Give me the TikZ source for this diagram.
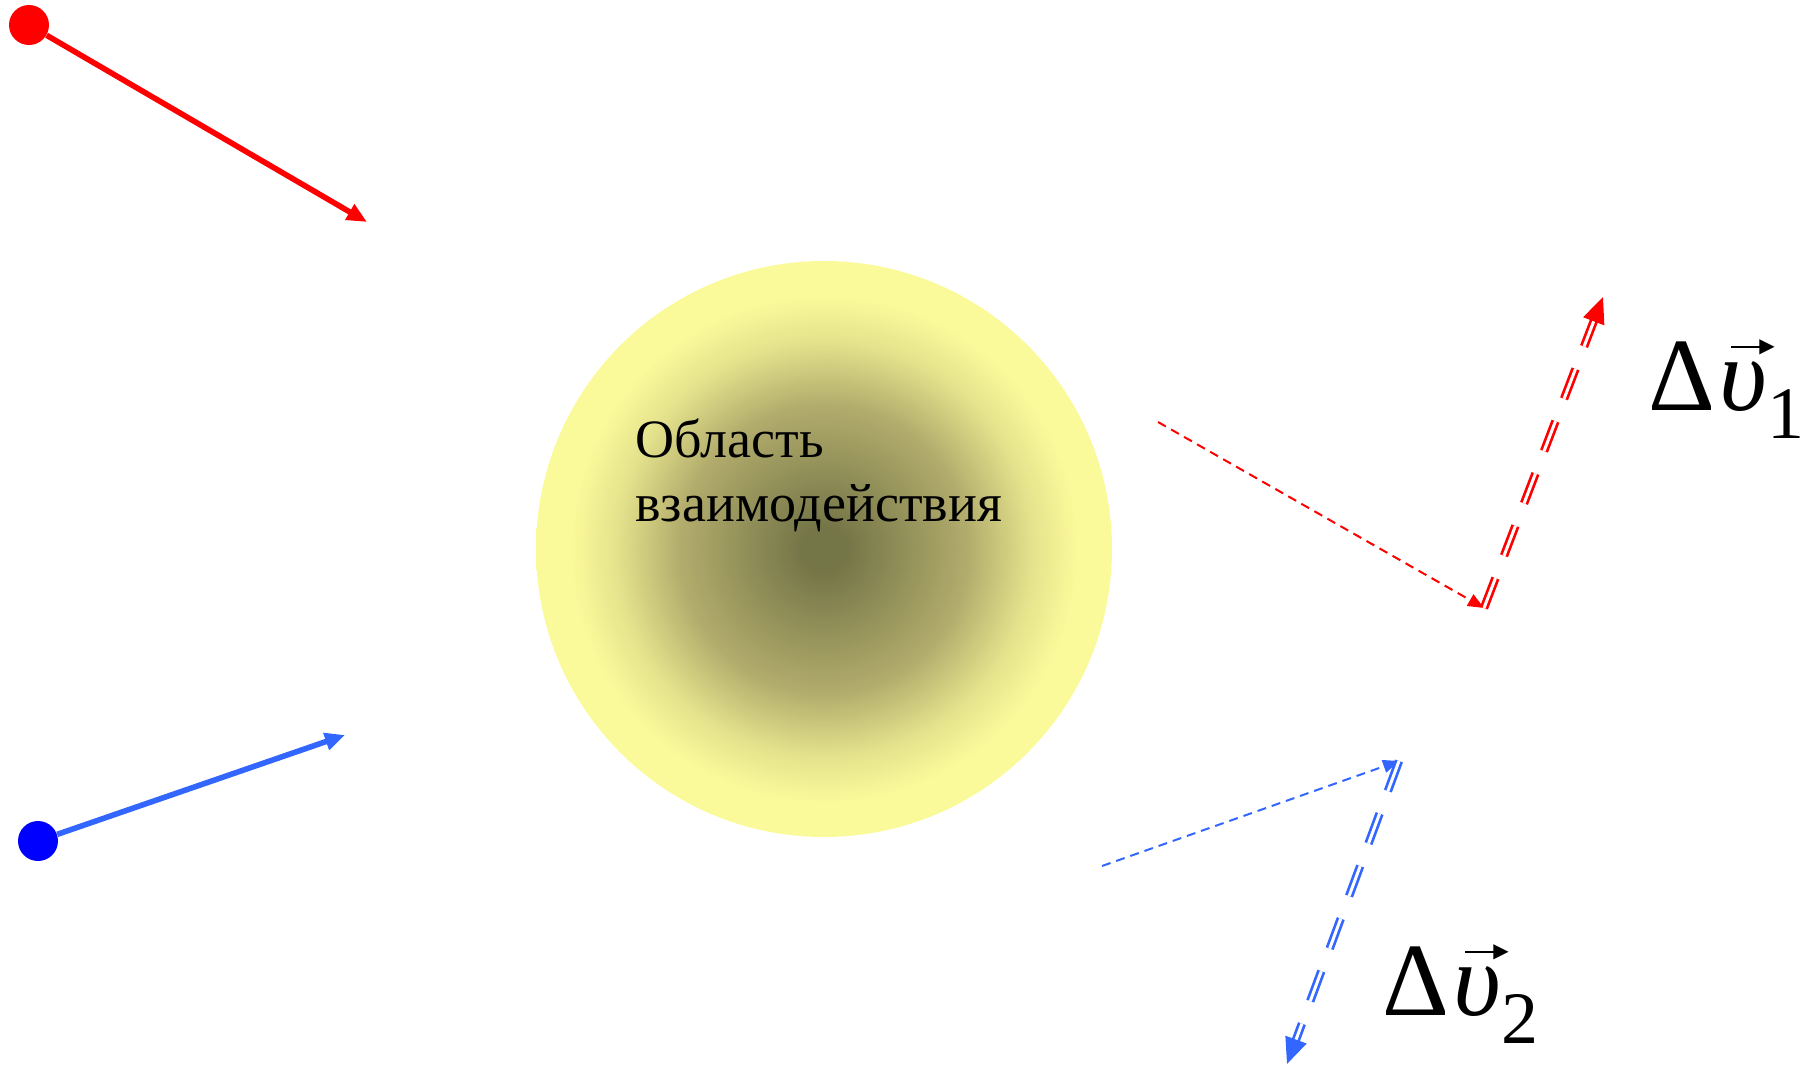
\documentclass[tikz,border=0pt]{standalone}
\usepackage{fontspec}
\setmainfont{Liberation Serif}
\newfontfamily\arrowfont{DejaVu Sans}
\usetikzlibrary{arrows.meta}
\definecolor{dotred}{RGB}{255,0,0}
\definecolor{dotblue}{RGB}{0,0,255}
\definecolor{lineblue}{RGB}{51,102,255}
\definecolor{olivedark}{RGB}{117,118,72}
\definecolor{olivemid}{RGB}{178,172,108}
\definecolor{olivelight}{RGB}{228,226,140}
\definecolor{paleyel}{RGB}{251,250,154}
\pgfdeclareradialshading{blob}{\pgfpoint{0bp}{0bp}}{color(0bp)=(olivedark); color(2bp)=(olivedark); color(12.5bp)=(olivemid); color(18bp)=(olivelight); color(22bp)=(paleyel); color(50bp)=(paleyel)}
\newcommand\vecarrow{\setbox0\hbox{\fontsize{10}{10}\arrowfont ▶}%
  \hbox{\rule[\dimexpr(\ht0-\dp0)/2-0.55pt\relax]{16pt}{1.1pt}\kern-2pt\box0}}
\newcommand\vecups{\rlap{\kern 6pt\raisebox{29pt}{\vecarrow}}{\itshape υ}}
\tikzset{
  ball/.style={circle, minimum size=20pt, inner sep=0pt, draw=none},
  moving/.style={line width=2.8pt, -{Triangle[length=10pt,width=8.5pt]}},
  path after/.style={line width=1pt, dash pattern=on 4.5pt off 3pt, -{Triangle[length=8pt,width=6.5pt]}},
  dv/.style={line width=1.35pt, double=white, double distance=1.5pt, dash pattern=on 16pt off 12pt, -{Triangle[length=13pt,width=11pt]}},
  bigmath/.style={anchor=base west, inner sep=0pt, font=\fontsize{52}{52}\selectfont}
}
\begin{document}
\begin{tikzpicture}[x=0.5pt,y=-0.5pt]
\useasboundingbox (0,0) rectangle (1806,1066);
% interaction region
\node[circle, minimum size=288pt, inner sep=0pt, shading=blob] (zone) at (824,549) {};
\node[anchor=base west, align=left, inner sep=0pt, font=\fontsize{27}{32}\selectfont] (zlabel) at (635,521) {Область\\взаимодействия};
% incoming particles
\node[ball, fill=dotred] (p1) at (29,25) {};
\node[ball, fill=dotblue] (p2) at (38,841) {};
\coordinate (t1) at (367,222);
\coordinate (t2) at (345,735);
\draw[moving, dotred] (p1) -- (t1);
\draw[moving, lineblue] (p2) -- (t2);
% outgoing (undisturbed) paths
\coordinate (s1) at (1158,422);
\coordinate (h1) at (1484,608);
\coordinate (e1) at (1603,297);
\coordinate (s2) at (1102,866);
\coordinate (h2) at (1399,761);
\coordinate (e2) at (1287,1064);
\draw[path after, dotred] (s1) -- (h1);
\draw[path after, lineblue] (s2) -- (h2);
\draw[dv, dotred] (h1) -- (e1);
\draw[dv, lineblue] (h2) -- (e2);
% labels
\node[bigmath] (dv1) at (1648,410) {Δ\kern2pt\vecups\raisebox{-14pt}{\fontsize{37}{37}\selectfont 1}};
\node[bigmath] (dv2) at (1382,1015) {Δ\kern2pt\vecups\raisebox{-14pt}{\fontsize{37}{37}\selectfont 2}};
\end{tikzpicture}
\end{document}
